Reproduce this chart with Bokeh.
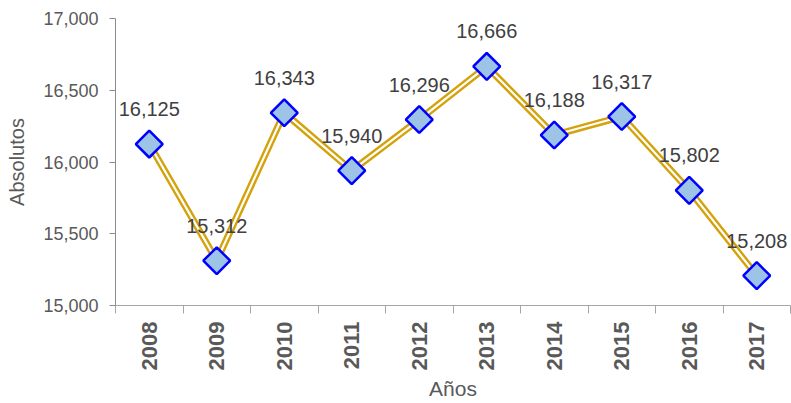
import math
from bokeh.plotting import figure
from bokeh.models import (ColumnDataSource, Range1d, LinearAxis,
                          FixedTicker, NumeralTickFormatter, LabelSet)
from bokeh.core.properties import value
from bokeh.embed import file_html
from bokeh.resources import INLINE

years = ["2008", "2009", "2010", "2011", "2012", "2013", "2014", "2015", "2016", "2017"]
values = [16125, 15312, 16343, 15940, 16296, 16666, 16188, 16317, 15802, 15208]
labels = ["{:,}".format(v) for v in values]
y_ticks = [15000, 15500, 16000, 16500, 17000]

# category centres on a numeric axis (slot i spans i..i+1)
xs = [i + 0.5 for i in range(len(years))]
edges = list(range(len(years) + 1))

src = ColumnDataSource(dict(x=xs, y=values, lab=labels))

FONT = "Liberation Sans"
GRAY = "#595959"
AXIS = "#8C8C8C"

p = figure(width=791, height=403, x_range=Range1d(0, len(years)), y_range=Range1d(15000, 17000),
           output_backend="svg", toolbar_location=None, x_axis_location=None,
           min_border_left=115, min_border_right=1, min_border_top=18,
           min_border_bottom=98, outline_line_color=None)
p.xgrid.grid_line_color = None
p.ygrid.grid_line_color = None

# y axis
ya = p.yaxis[0]
ya.ticker = FixedTicker(ticks=y_ticks)
ya.formatter = NumeralTickFormatter(format="0,0")
ya.axis_label = "Absolutos"
ya.axis_label_text_font = FONT
ya.axis_label_text_font_size = "20px"
ya.axis_label_text_font_style = "normal"
ya.axis_label_text_color = GRAY
ya.axis_label_standoff = 12
ya.major_label_text_font = FONT
ya.major_label_text_font_size = "18px"
ya.major_label_text_color = GRAY
ya.major_label_standoff = 11
ya.major_tick_in = 0
ya.major_tick_out = 6
ya.minor_tick_line_color = None
ya.axis_line_color = AXIS
ya.major_tick_line_color = AXIS

# x axis: labels at category centres, minor ticks on category boundaries
xa = LinearAxis(ticker=FixedTicker(ticks=xs, minor_ticks=edges),
                major_label_overrides={x: y for x, y in zip(xs, years)})
xa.axis_line_color = "#A6A6A6"
xa.major_tick_line_color = None
xa.major_tick_in = 0
xa.major_tick_out = 0
xa.minor_tick_line_color = "#A6A6A6"
xa.minor_tick_in = 0
xa.minor_tick_out = 8
xa.major_label_orientation = math.pi / 2
xa.major_label_text_font = FONT
xa.major_label_text_font_size = "22px"
xa.major_label_text_font_style = "bold"
xa.major_label_text_color = GRAY
xa.major_label_standoff = 8
xa.axis_label = "Años"
xa.axis_label_text_font = FONT
xa.axis_label_text_font_size = "21px"
xa.axis_label_text_font_style = "normal"
xa.axis_label_text_color = GRAY
xa.axis_label_standoff = 4
p.add_layout(xa, "below")

# triple line
p.line("x", "y", source=src, line_color="#D4A20C", line_width=7)
p.line("x", "y", source=src, line_color="white", line_width=2.2)

p.scatter("x", "y", source=src, marker="square", size=19, angle=math.pi / 4,
          fill_color="#9DC3E6", line_color="#0000FF", line_width=2.5)

p.add_layout(LabelSet(x="x", y="y", text="lab", source=src, text_align="center",
                      text_baseline="alphabetic", y_offset=28,
                      text_font=value(FONT), text_font_size=value("20px"),
                      text_color="#404040"))

open("out.html", "w").write(file_html(p, INLINE))
